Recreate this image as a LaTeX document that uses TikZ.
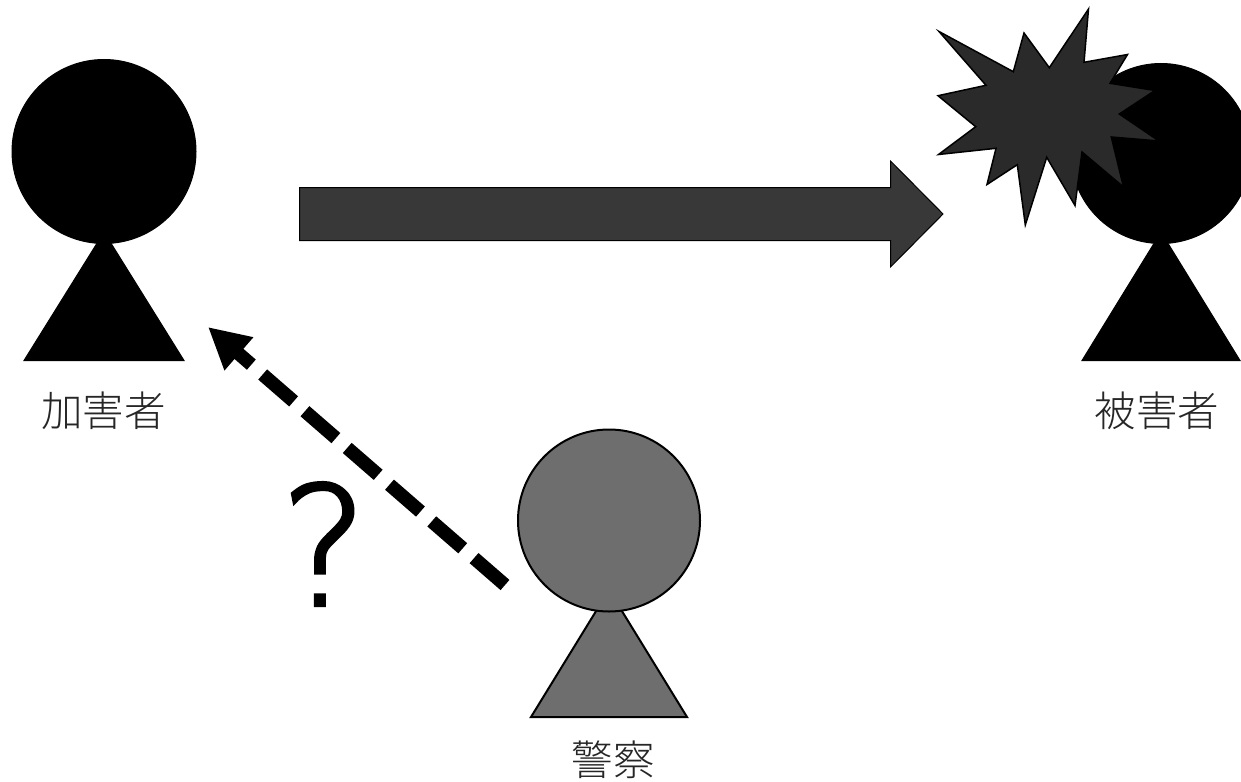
\documentclass[tikz,border=0pt]{standalone}
\usepackage{fontspec}
\usetikzlibrary{arrows.meta}
\newfontfamily\cjk{Noto Sans CJK JP Light}
\newfontfamily\latinlight[FakeBold=2.2]{DejaVu Sans ExtraLight}
\tikzset{
  x=1pt,y=-1pt,
  headshape/.style={circle,inner sep=0pt,minimum size=#1},
  blackfig/.style={fill=black,draw=black,line width=1pt},
  grayfig/.style={fill=policegray,draw=black,line width=2pt,line join=miter},
  labeltext/.style={font=\cjk\fontsize{41.5}{46}\selectfont,text=black!85,inner sep=0pt},
}
\definecolor{policegray}{HTML}{6E6E6E}
\definecolor{arrowgray}{HTML}{383838}
\definecolor{stargray}{HTML}{2A2A2A}
\begin{document}
\begin{tikzpicture}
\useasboundingbox (0,0) rectangle (1241,781);
% perpetrator
\draw[blackfig] (104,232) -- (184,360.5) -- (24,360.5) -- cycle;
\node[headshape=184pt,blackfig] (perp) at (104,151.5) {};
\node[labeltext] (perplabel) at (103.5,411) {加害者};
% victim
\draw[blackfig] (1161,232) -- (1240,360.5) -- (1082,360.5) -- cycle;
\node[headshape=180pt,blackfig] (victim) at (1161,153.5) {};
\node[labeltext] (victimlabel) at (1157,411) {被害者};
% police
\draw[grayfig] (609,590) -- (687,717) -- (531,717) -- cycle;
\node[headshape=182pt,grayfig] (police) at (609,520.5) {};
\node[labeltext] (policelabel) at (613,760) {警察};
% strike arrow
\draw[fill=arrowgray,draw=black,line width=1pt,line join=miter]
  (299.5,187.5) -- (890.5,187.5) -- (890.5,161) -- (943,214) -- (890.5,267) -- (890.5,240.5) -- (299.5,240.5) -- cycle;
% burst
\draw[fill=stargray,draw=black,line width=1.5pt,line join=miter]
  (939,31.5) -- (1013.3,71.7) -- (1024,33) -- (1049.3,67.7) -- (1088.5,9) -- (1084,62.3)
  -- (1127.5,54.5) -- (1110,83.3) -- (1155,90.5) -- (1119.3,114) -- (1159,141) -- (1111.3,137)
  -- (1123.5,187) -- (1082,152) -- (1075,205.5) -- (1046.7,157.3) -- (1025.3,225)
  -- (1017.3,164.7) -- (987,184.5) -- (996,148.3) -- (938.5,154.5) -- (975.7,126.7) -- (938,95.7) -- (986,85.3) -- cycle;
% dashed connector
\coordinate (watchstart) at (505,585);
\coordinate (watchend) at (208,327);
\draw[line width=13.5pt,dash pattern=on 41pt off 15pt,-{Triangle[length=41pt,width=41pt]}] (watchstart) -- (watchend);
\node[font=\latinlight\fontsize{165}{165}\selectfont,inner sep=0pt] (qmark) at (324,544) {?};
\end{tikzpicture}
\end{document}
